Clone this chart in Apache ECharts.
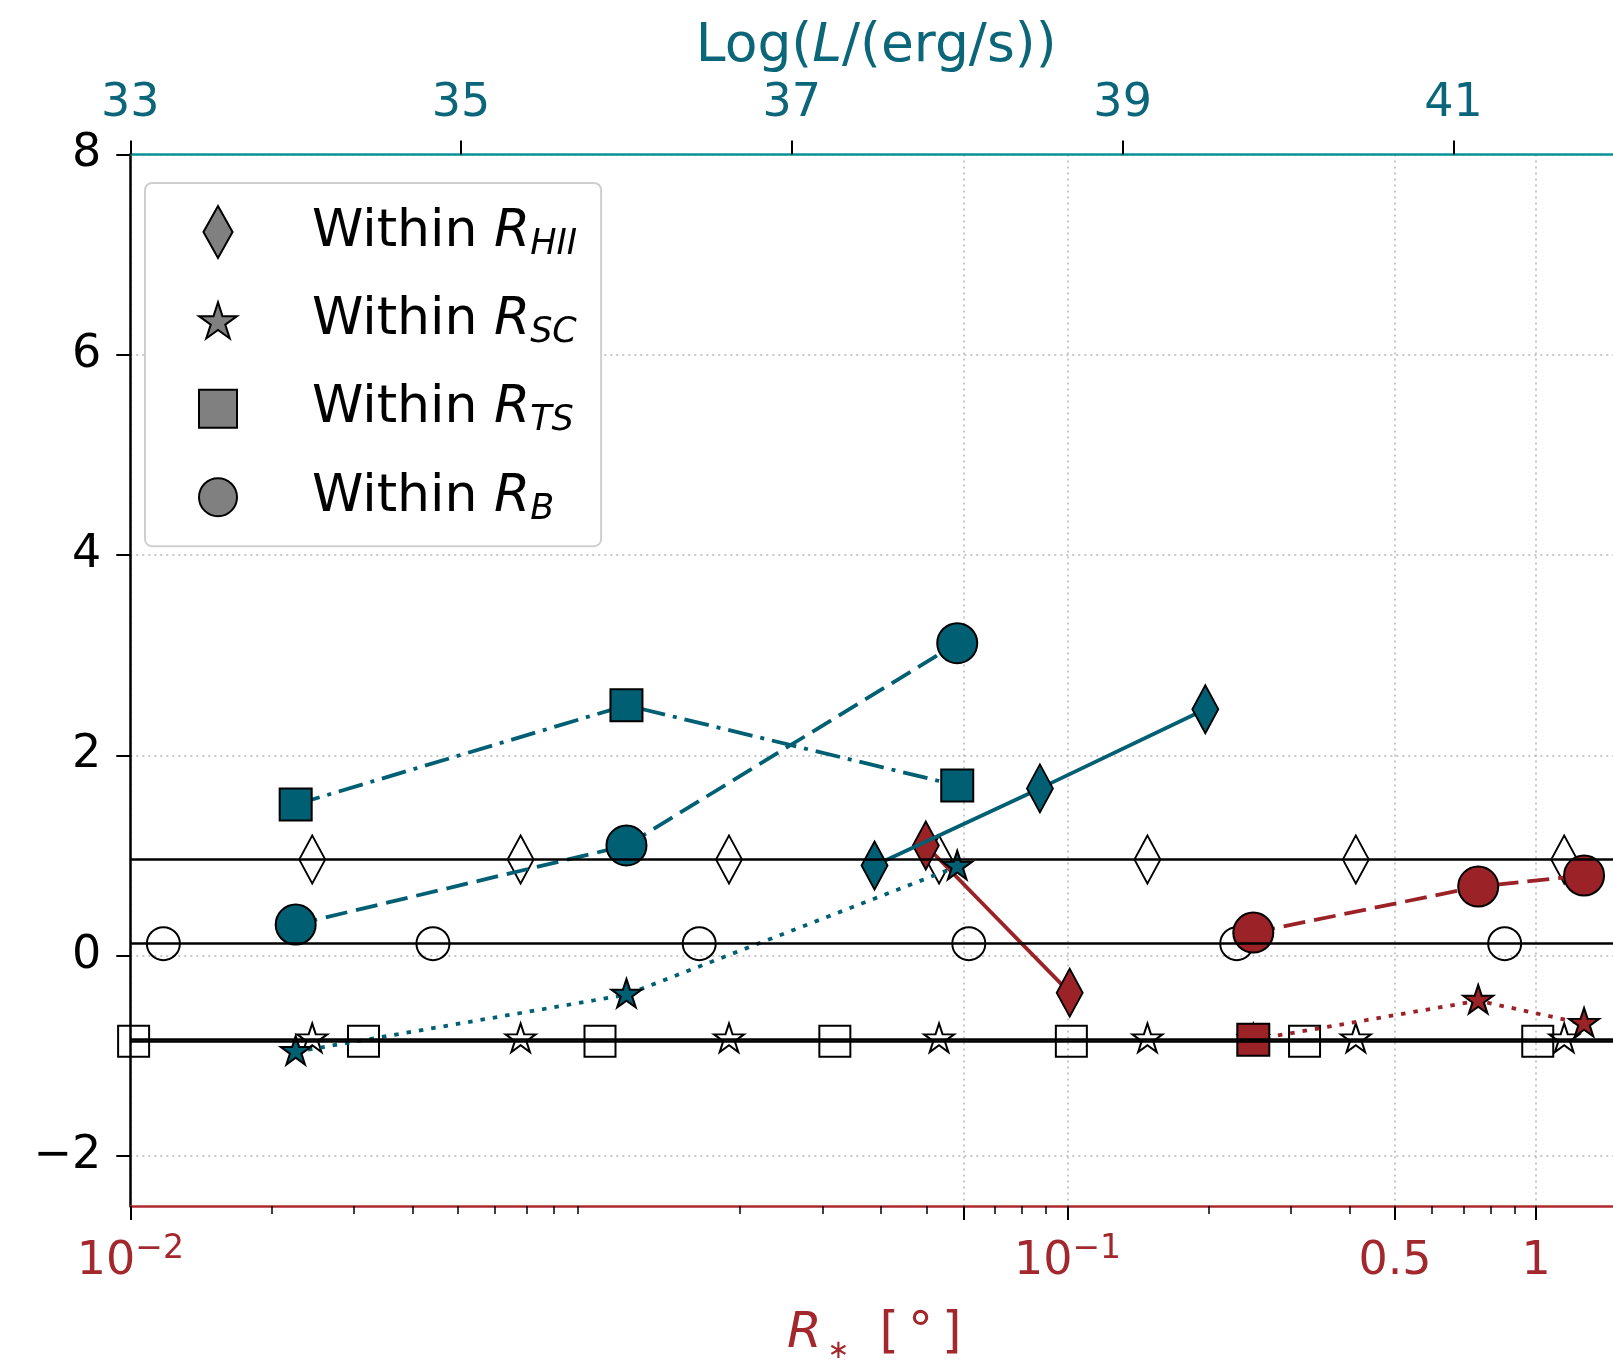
<!DOCTYPE html>
<html>
<head>
<meta charset="utf-8">
<script src="https://cdn.jsdelivr.net/npm/echarts@6/dist/echarts.min.js"></script>
<style>
html,body{margin:0;padding:0;background:#ffffff;overflow:hidden;}
#chart{width:1613px;height:1369px;}
</style>
</head>
<body>
<div id="chart"></div>
<script>
// ================= DATA =================
// Top axis: Log(L/(erg/s)) — shared x coordinate of every mark (plot is cut at the right edge)
const logLRange = [33, 41.965];
const topTicks = [33, 35, 37, 39, 41];

// Y axis
const yRange = [-2.5, 8];
const yTicks = [-2, 0, 2, 4, 6, 8];

// Bottom axis R* : a log axis spanning 3 decades between logL 33 and 41.5
const bottomDecadeSpan = [33, 41.5, 3];          // logL start, logL end, decades
const bottomMajorVals = [1, 60, 100, 500, 1000];  // underlying log-axis values
const bottomMajorLabels = ['10^-2', '', '10^-1', '0.5', '1'];
const bottomMinorMantissas = [2, 3, 4, 5, 6, 7, 8, 9];
const bottomDecades = [1, 10, 100];

// Reference (open-marker) levels
const refHIIx = [34.10, 35.36, 36.62, 37.89, 39.15, 40.41, 41.67];
const refHIIy = 0.96;
const refSCx = [34.10, 35.36, 36.62, 37.89, 39.15, 40.41, 41.67];
const refSCy = -0.835;
const refTSx = [33.02, 34.41, 35.84, 37.26, 38.69, 40.10, 41.51];
const refTSy = -0.855;
const refBx = [33.20, 34.83, 36.44, 38.07, 39.69, 41.31];
const refBy = 0.12;

// Teal series
const tealX = [34, 36, 38];
const tealTS = [1.51, 2.50, 1.70];
const tealB = [0.31, 1.10, 3.12];
const tealSC = [-0.96, -0.39, 0.89];
const tealHIIx = [37.5, 38.5, 39.5];
const tealHII = [0.90, 1.67, 2.46];

// Red series
const redHIIx = [37.81, 38.68];
const redHII = [1.10, -0.37];
const redX = [39.79, 41.15, 41.79];
const redB = [0.23, 0.69, 0.80];
const redSC = [-0.84, -0.45, -0.68];
const redTSx = [39.79];
const redTS = [-0.84];

// Legend
const legendNames = ['HII', 'SC', 'TS', 'B'];

// ================= STYLE / BUILD =================
const FONT = 'DejaVu Sans';
const TEAL = '#005f73';
const TEAL_TXT = '#0b6679';
const TEAL_SPINE = '#0a9396';
const RED = '#9b2226';
const RED_TXT = '#a3282d';
const RED_SPINE = '#ae2a2e';

const STAR = 'path://M100,0L77.55,69.1L4.9,69.1L63.67,111.8L41.2,180.9L100,138.2L158.8,180.9L136.33,111.8L195.1,69.1L122.45,69.1Z';
const DIAMOND_PATH = 'path://M14,0L28,25L14,50L0,25Z';
const SQUARE_PATH = 'path://M0,0L10,0L10,10L0,10Z';
const CIRCLE_PATH = 'path://M10,0A10,10,0,1,1,10,20A10,10,0,1,1,10,0Z';

function vToLogL(v) {
  const [a, b, n] = bottomDecadeSpan;
  return a + Math.log10(v) * (b - a) / n;
}
const bottomMajorPos = bottomMajorVals.map(vToLogL);
const bottomMinorPos = [];
bottomDecades.forEach(d => bottomMinorMantissas.forEach(m => {
  const v = m * d;
  if (bottomMajorVals.indexOf(v) < 0) bottomMinorPos.push(vToLogL(v));
}));

function bottomLabel(val) {
  for (let i = 0; i < bottomMajorPos.length; i++) {
    if (Math.abs(bottomMajorPos[i] - val) < 1e-6) {
      const s = bottomMajorLabels[i];
      if (!s) return '';
      const m = s.match(/^10\^(-?\d+)$/);
      if (m) return '{b|10}{p|' + m[1].replace('-', '\u2212') + '}';
      return '{b|' + s + '}';
    }
  }
  return '';
}

const pairs = (xs, ys) => xs.map((x, i) => [x, Array.isArray(ys) ? ys[i] : ys]);

const openStyle = {color: 'rgba(0,0,0,0)', borderColor: '#000', borderWidth: 2, opacity: 1};
function refSeries(name, xs, y, symbol, size, offset) {
  return {
    name: name, type: 'scatter', xAxisIndex: 0, yAxisIndex: 0, z: 2,
    data: pairs(xs, y), symbol: symbol, symbolSize: size, symbolOffset: offset || [0, 0],
    itemStyle: openStyle, clip: false, silent: true,
    markLine: {
      silent: true, symbol: ['none', 'none'], label: {show: false},
      lineStyle: {type: 'solid', color: '#000', width: 2.5, opacity: 1},
      data: [{yAxis: y}], animation: false
    }
  };
}
function colSeries(name, xs, ys, color, symbol, size, dash, z, offset) {
  return {
    name: name, type: 'line', xAxisIndex: 0, yAxisIndex: 0, z: z,
    data: pairs(xs, ys), symbol: symbol, symbolSize: size, symbolOffset: offset || [0, 0],
    showSymbol: true, clip: false, silent: true,
    lineStyle: {color: color, width: 3.8, type: dash},
    itemStyle: {color: color, borderColor: '#000', borderWidth: 2, opacity: 1}
  };
}

const DASHED = [22, 9];
const DASHDOT = [25, 8, 4, 8];
const DOTTED = [4.5, 8];
const STAR_SIZE = [30, 28.5];
const STAR_OFF = [0, -1.5];

const series = [
  refSeries('HII', refHIIx, refHIIy, 'diamond', [26, 48]),
  refSeries('SC', refSCx, refSCy, STAR, STAR_SIZE, STAR_OFF),
  refSeries('TS', refTSx, refTSy, 'rect', 31),
  refSeries('B', refBx, refBy, 'circle', 33),

  colSeries('redHII', redHIIx, redHII, RED, 'diamond', [26, 48], 'solid', 3),
  colSeries('redSC', redX, redSC, RED, STAR, STAR_SIZE, DOTTED, 3, STAR_OFF),
  colSeries('redB', redX, redB, RED, 'circle', 40, DASHED, 3),
  colSeries('redTS', redTSx, redTS, RED, 'rect', 32, 'solid', 3),

  colSeries('tealSC', tealX, tealSC, TEAL, STAR, STAR_SIZE, DOTTED, 4, STAR_OFF),
  colSeries('tealB', tealX, tealB, TEAL, 'circle', 40, DASHED, 4),
  colSeries('tealTS', tealX, tealTS, TEAL, 'rect', 32, DASHDOT, 4),
  colSeries('tealHII', tealHIIx, tealHII, TEAL, 'diamond', [26, 48], 'solid', 4)
];

const legendIcons = {HII: DIAMOND_PATH, SC: STAR, TS: SQUARE_PATH, B: CIRCLE_PATH};

const option = {
  animation: false,
  backgroundColor: '#ffffff',
  textStyle: {fontFamily: FONT},
  grid: {left: 130.3, top: 154.5, right: 0, height: 1058, containLabel: false},
  legend: {
    show: true, orient: 'vertical', left: 145, top: 183, selectedMode: false,
    itemWidth: 38, itemHeight: 52, itemGap: 32.4,
    padding: [22, 24, 19, 53],
    backgroundColor: '#ffffff', borderColor: '#cfcfcf', borderWidth: 2, borderRadius: 7,
    data: legendNames.map(n => ({
      name: n, icon: legendIcons[n],
      itemStyle: {color: '#808080', borderColor: '#000', borderWidth: 2, opacity: 1}
    })),
    formatter: n => '{sp| }{w|Within }{r|R}{s|' + n + '}',
    textStyle: {
      fontFamily: FONT,
      rich: {
        sp: {width: 70, fontSize: 52, lineHeight: 60},
        w: {fontSize: 52, lineHeight: 60, color: '#000', fontFamily: FONT},
        r: {fontSize: 52, lineHeight: 60, color: '#000', fontStyle: 'italic', fontFamily: FONT},
        s: {fontSize: 35, lineHeight: 35, color: '#000', fontStyle: 'italic', fontFamily: FONT, verticalAlign: 'bottom'}
      }
    }
  },
  xAxis: [
    {
      type: 'value', position: 'top', min: logLRange[0], max: logLRange[1],
      axisLine: {show: true, onZero: false, lineStyle: {color: TEAL_SPINE, width: 2.5}},
      axisTick: {show: true, length: 14, lineStyle: {color: '#000', width: 2}, customValues: topTicks},
      axisLabel: {customValues: topTicks, fontSize: 46, lineHeight: 46, color: TEAL_TXT, margin: 27, fontFamily: FONT},
      splitLine: {show: false},
      name: '{a|Log(}{i|L}{a|/(erg/s))}', nameLocation: 'middle', nameGap: 80,
      nameTextStyle: {
        padding: [0, 0, 0, 9],
        rich: {
          a: {fontSize: 53.5, lineHeight: 54, color: TEAL_TXT, fontFamily: FONT},
          i: {fontSize: 53.5, lineHeight: 54, color: TEAL_TXT, fontFamily: FONT, fontStyle: 'italic'}
        }
      }
    },
    {
      type: 'value', position: 'bottom', min: logLRange[0], max: logLRange[1],
      axisLine: {show: true, onZero: false, lineStyle: {color: RED_SPINE, width: 2.5}},
      axisTick: {show: true, length: 14, lineStyle: {color: '#000', width: 2}, customValues: bottomMajorPos},
      axisLabel: {
        customValues: bottomMajorPos, margin: 27, formatter: bottomLabel,
        rich: {
          b: {fontSize: 46, lineHeight: 59, color: RED_TXT, fontFamily: FONT},
          p: {fontSize: 33, lineHeight: 33, color: RED_TXT, fontFamily: FONT, verticalAlign: 'top'}
        }
      },
      splitLine: {show: true, lineStyle: {color: '#b5b5b5', width: 1.5, type: [2, 4]}},
      name: '{i|R}{s|\u2217}{g1| }{a|[}{g2| }{a|\u00b0}{g2| }{a|]}', nameLocation: 'middle', nameGap: 98,
      nameTextStyle: {
        padding: [0, 0, 0, 5],
        rich: {
          a: {fontSize: 50, lineHeight: 60, color: RED_TXT, fontFamily: FONT},
          i: {fontSize: 50, lineHeight: 60, color: RED_TXT, fontFamily: FONT, fontStyle: 'italic'},
          s: {fontSize: 26, lineHeight: 26, color: RED_TXT, fontFamily: FONT, verticalAlign: 'bottom', padding: [0, 0, 0, 6]},
          g1: {width: 30, fontSize: 20, lineHeight: 20},
          g2: {width: 9, fontSize: 20, lineHeight: 20}
        }
      }
    },
    {
      type: 'value', position: 'bottom', min: logLRange[0], max: logLRange[1],
      axisLine: {show: false, onZero: false},
      axisTick: {show: true, length: 8, lineStyle: {color: '#000', width: 1.5}, customValues: bottomMinorPos},
      axisLabel: {show: false},
      splitLine: {show: false}
    }
  ],
  yAxis: {
    type: 'value', min: yRange[0], max: yRange[1],
    axisLine: {show: true, onZero: false, lineStyle: {color: '#000', width: 2.5}},
    axisTick: {show: true, length: 14, lineStyle: {color: '#000', width: 2}, customValues: yTicks},
    axisLabel: {
      customValues: yTicks, fontSize: 46, color: '#000', margin: 29, fontFamily: FONT,
      formatter: v => String(v).replace('-', '\u2212')
    },
    splitLine: {show: true, lineStyle: {color: '#b5b5b5', width: 1.5, type: [2, 4]}}
  },
  series: series
};

const chart = echarts.init(document.getElementById('chart'), null, {renderer: 'canvas'});
chart.setOption(option);
</script>
</body>
</html>
